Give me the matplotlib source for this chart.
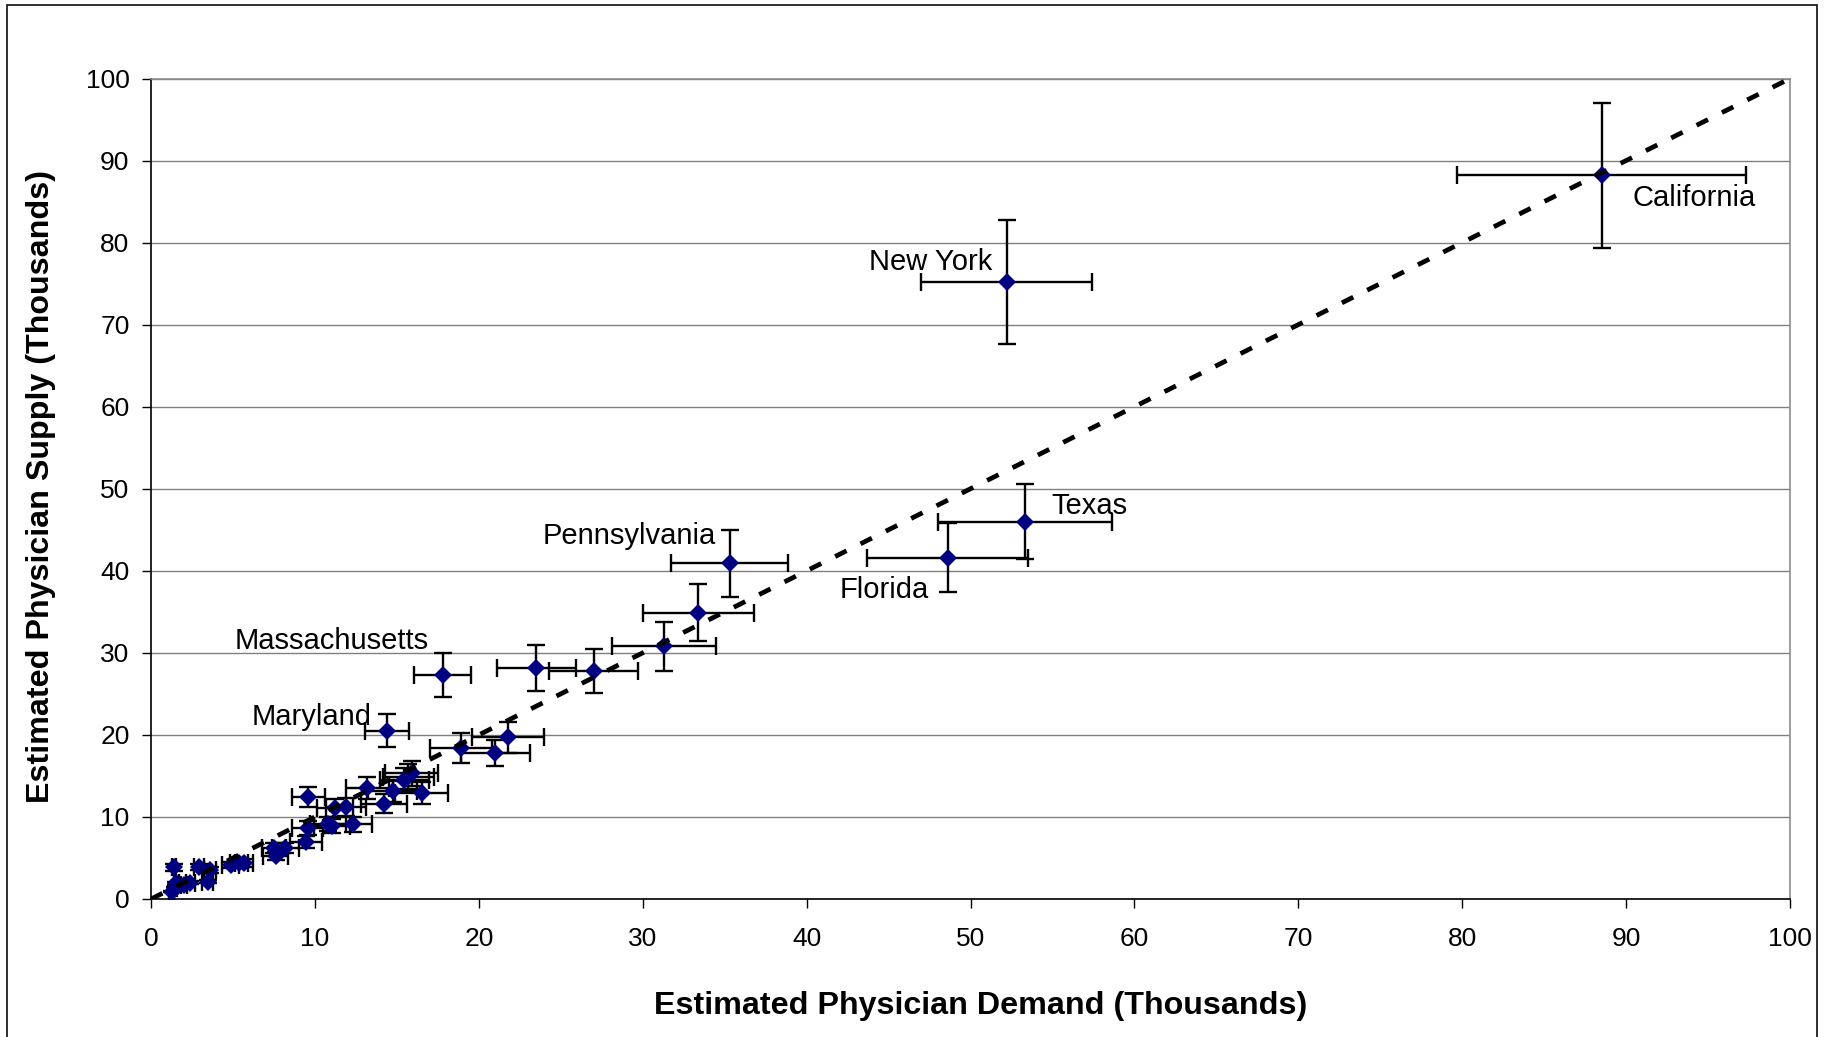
import matplotlib
matplotlib.use("Agg")
import matplotlib.pyplot as plt
from matplotlib.patches import Rectangle

plt.rcParams['font.family'] = ['Liberation Sans', 'DejaVu Sans']

# Estimated physician demand and supply by state (thousands)
state_labels = ["California", "New York", "Texas", "Florida", "Pennsylvania",
                "", "", "", "", "Massachusetts",
                "Maryland", "", "", "", "", "", "", "", "", "",
                "", "", "", "", "", "", "", "", "", "",
                "", "", "", "", "", "", "", "", "", "",
                "", "", "", ""]
demand = [88.5, 52.2, 53.3, 48.6, 35.3, 33.4, 31.3, 27.0, 23.5, 17.8,
          14.4, 21.8, 18.9, 21.0, 16.5, 15.9, 15.7, 15.45, 14.75, 14.2,
          13.2, 12.3, 11.9, 11.2, 11.05, 10.8, 9.6, 9.55, 9.45, 8.2,
          7.5, 7.6, 5.65, 5.35, 4.85, 3.6, 2.9, 3.45, 2.4, 2.0,
          1.4, 1.55, 1.45, 1.25]
supply = [88.2, 75.2, 46.0, 41.6, 40.9, 34.9, 30.8, 27.8, 28.1, 27.3,
          20.5, 19.7, 18.4, 17.8, 12.9, 15.3, 14.9, 14.5, 13.1, 11.6,
          13.5, 9.1, 11.2, 11.05, 8.9, 9.15, 12.4, 8.7, 6.95, 6.2,
          6.2, 5.2, 4.4, 4.35, 4.15, 3.5, 3.9, 2.1, 2.0, 1.7,
          3.85, 1.9, 1.3, 0.9]
demand_err = [8.8, 5.2, 5.3, 4.9, 3.55, 3.4, 3.15, 2.7, 2.4, 1.75,
              1.35, 2.2, 1.9, 2.1, 1.6, 1.6, 1.55, 1.5, 1.5, 1.4,
              1.3, 1.2, 1.2, 1.1, 1.1, 1.1, 1.0, 0.95, 0.95, 0.8,
              0.75, 0.75, 0.55, 0.55, 0.5, 0.35, 0.3, 0.35, 0.25, 0.2,
              0.15, 0.15, 0.15, 0.15]
supply_err = [8.8, 7.5, 4.6, 4.2, 4.1, 3.5, 3.0, 2.7, 2.8, 2.7,
              2.0, 1.9, 1.8, 1.6, 1.3, 1.5, 1.5, 1.45, 1.3, 1.15,
              1.35, 0.9, 1.1, 1.1, 0.9, 0.9, 1.25, 0.85, 0.7, 0.6,
              0.6, 0.5, 0.45, 0.45, 0.4, 0.35, 0.4, 0.2, 0.2, 0.15,
              0.4, 0.2, 0.15, 0.1]

ticks = [0, 10, 20, 30, 40, 50, 60, 70, 80, 90, 100]

fig = plt.figure(figsize=(18.38, 10.37), dpi=100)
ax = fig.add_axes([0.0822, 0.1331, 0.8917, 0.7912])

ax.errorbar(demand, supply, xerr=demand_err, yerr=supply_err,
            fmt='none', ecolor='black', elinewidth=1.7, capsize=6.5,
            capthick=1.7, zorder=2)
ax.plot(demand, supply, linestyle='none', marker='D', color='#000080',
        markersize=9.5, markeredgewidth=0, zorder=3)

# Supply = demand reference line
ax.plot([ticks[0], ticks[-1]], [ticks[0], ticks[-1]], color='black',
        lw=3.4, linestyle=(0, (2.7, 3.3)), dash_capstyle='butt', zorder=4)

# State annotations: offset in points and horizontal alignment
label_style = {
    "California": ((22, -16.5), 'left'),
    "New York": ((-10, 14.5), 'right'),
    "Texas": ((19, 11), 'left'),
    "Florida": ((-13.5, -23.5), 'right'),
    "Pennsylvania": ((-10, 19.5), 'right'),
    "Massachusetts": ((-10, 24.5), 'right'),
    "Maryland": ((-11, 10.2), 'right'),
}
for x, y, name in zip(demand, supply, state_labels):
    if not name:
        continue
    off, ha = label_style[name]
    ax.annotate(name, (x, y), xytext=off, textcoords='offset points',
                ha=ha, va='center', fontsize=21, zorder=5)

ax.set_xlim(0, 100)
ax.set_ylim(0, 100)
ax.set_xticks(ticks)
ax.set_yticks(ticks)
ax.tick_params(axis='both', direction='out', length=6.5, width=1,
               labelsize=19, color='black')
ax.tick_params(axis='x', pad=14)
ax.tick_params(axis='y', pad=9)
ax.yaxis.grid(True, color='#808080', lw=1)
ax.set_axisbelow(True)
for side in ('top', 'right'):
    ax.spines[side].set_color('#8c8c8c')
    ax.spines[side].set_linewidth(1.2)
for side in ('left', 'bottom'):
    ax.spines[side].set_color('black')
    ax.spines[side].set_linewidth(1.2)

fig.text(0.5337, 0.030, "Estimated Physician Demand (Thousands)",
         ha='center', va='center', fontsize=23.2, fontweight='bold')
fig.text(0.0223, 0.531, "Estimated Physician Supply (Thousands)",
         ha='center', va='center', rotation=90, fontsize=23.2,
         fontweight='bold')

# Chart frame
fig.patches.append(Rectangle((7 / 1838, -0.05), (1817 - 7) / 1838,
                             1.05 - 5 / 1037, transform=fig.transFigure,
                             fill=False, edgecolor='#202020', lw=1.3))

fig.savefig("out.png", dpi=100)
